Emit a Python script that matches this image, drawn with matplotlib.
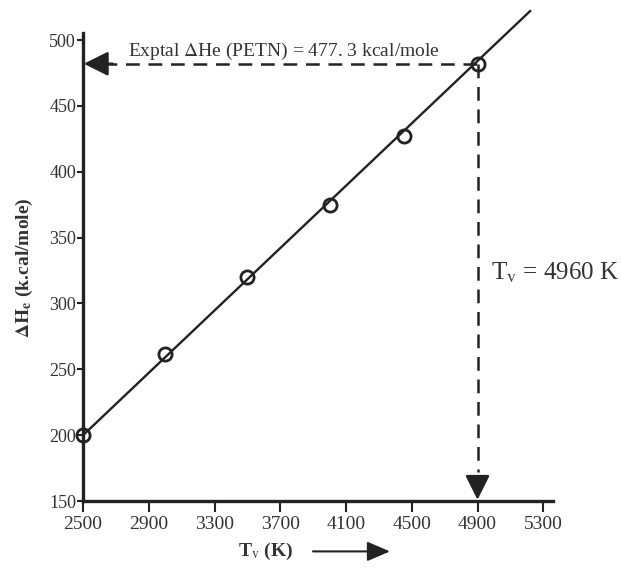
import matplotlib
matplotlib.use("Agg")
import matplotlib.pyplot as plt
from matplotlib.patches import FancyArrowPatch

# data
temps_k = [2500, 3000, 3500, 4000, 4450, 4900]
dh_kcal = [200, 262, 320, 375, 427, 482]
fit_T = [2500, 5220]
fit_H = [200, 522]
y_ticks = [150, 200, 250, 300, 350, 400, 450, 500]
x_ticks = [2500, 2900, 3300, 3700, 4100, 4500, 4900, 5300]
tv_mark = 4900
dh_expt = 482

plt.rcParams["font.family"] = ["Liberation Serif", "DejaVu Serif"]
plt.rcParams["mathtext.fontset"] = "stix"

ink = "#222222"
txt = "#333333"
fig = plt.figure(figsize=(6.21, 5.72), dpi=100)
ax = fig.add_axes([0.1337, 0.124, 0.757, 0.8175])

ax.plot(fit_T, fit_H, color=ink, lw=1.7, clip_on=False, zorder=3)
ax.plot(temps_k, dh_kcal, "o", ms=9.5, mfc="none", mec=ink, mew=2, zorder=4, clip_on=False)

# dashed guide lines with arrowheads
dash = (0, (5.5, 3.5))
ax.plot([2620, tv_mark], [dh_expt, dh_expt], ls=dash, color=ink, lw=1.8, zorder=2)
ax.plot([tv_mark, tv_mark], [dh_expt, 172], ls=dash, color=ink, lw=1.8, zorder=2)
head = "-|>,head_length=1.5,head_width=0.75"
ax.annotate("", xy=(2505, dh_expt), xytext=(2680, dh_expt),
            arrowprops=dict(arrowstyle=head, color=ink, lw=1.8, shrinkA=0, shrinkB=0))
ax.annotate("", xy=(tv_mark, 151), xytext=(tv_mark, 168),
            arrowprops=dict(arrowstyle=head, color=ink, lw=1.8, shrinkA=0, shrinkB=0))

ax.text(2775, 491.5, r"Exptal $\Delta$He (PETN) = 477. 3 kcal/mole", fontsize=14,
        color=txt, va="center", ha="left")
ax.text(4985, 323, r"T$_\mathrm{v}$ = 4960 K", fontsize=18, color=txt, va="center", ha="left")

ax.set_xlim(2500, 5360)
ax.set_ylim(150, 505)
ax.set_xticks(x_ticks)
ax.set_yticks(y_ticks)
ax.tick_params(axis="x", labelsize=14, labelcolor=txt, color=ink, width=1.5, length=8, pad=3)
ax.tick_params(axis="y", labelsize=13, labelcolor=txt, color=ink, width=1.5, length=4, pad=1)

for side in ["top", "right"]:
    ax.spines[side].set_visible(False)
for side in ["left", "bottom"]:
    ax.spines[side].set_linewidth(2.4)
    ax.spines[side].set_color(ink)

ax.set_ylabel(r"$\mathbf{\Delta H_e}$ (k.cal/mole)", fontsize=14, fontweight="bold", color=txt, labelpad=10)

fig.text(0.427, 0.036, r"T$_\mathrm{v}$ (K)", fontsize=14, fontweight="bold", color=txt,
         ha="center", va="center")
fig.add_artist(FancyArrowPatch((0.504, 0.036), (0.628, 0.036), transform=fig.transFigure,
                               arrowstyle="-|>,head_length=7,head_width=3", color=ink, lw=1.5,
                               mutation_scale=2, shrinkA=0, shrinkB=0))

fig.savefig("out.png", dpi=100)
